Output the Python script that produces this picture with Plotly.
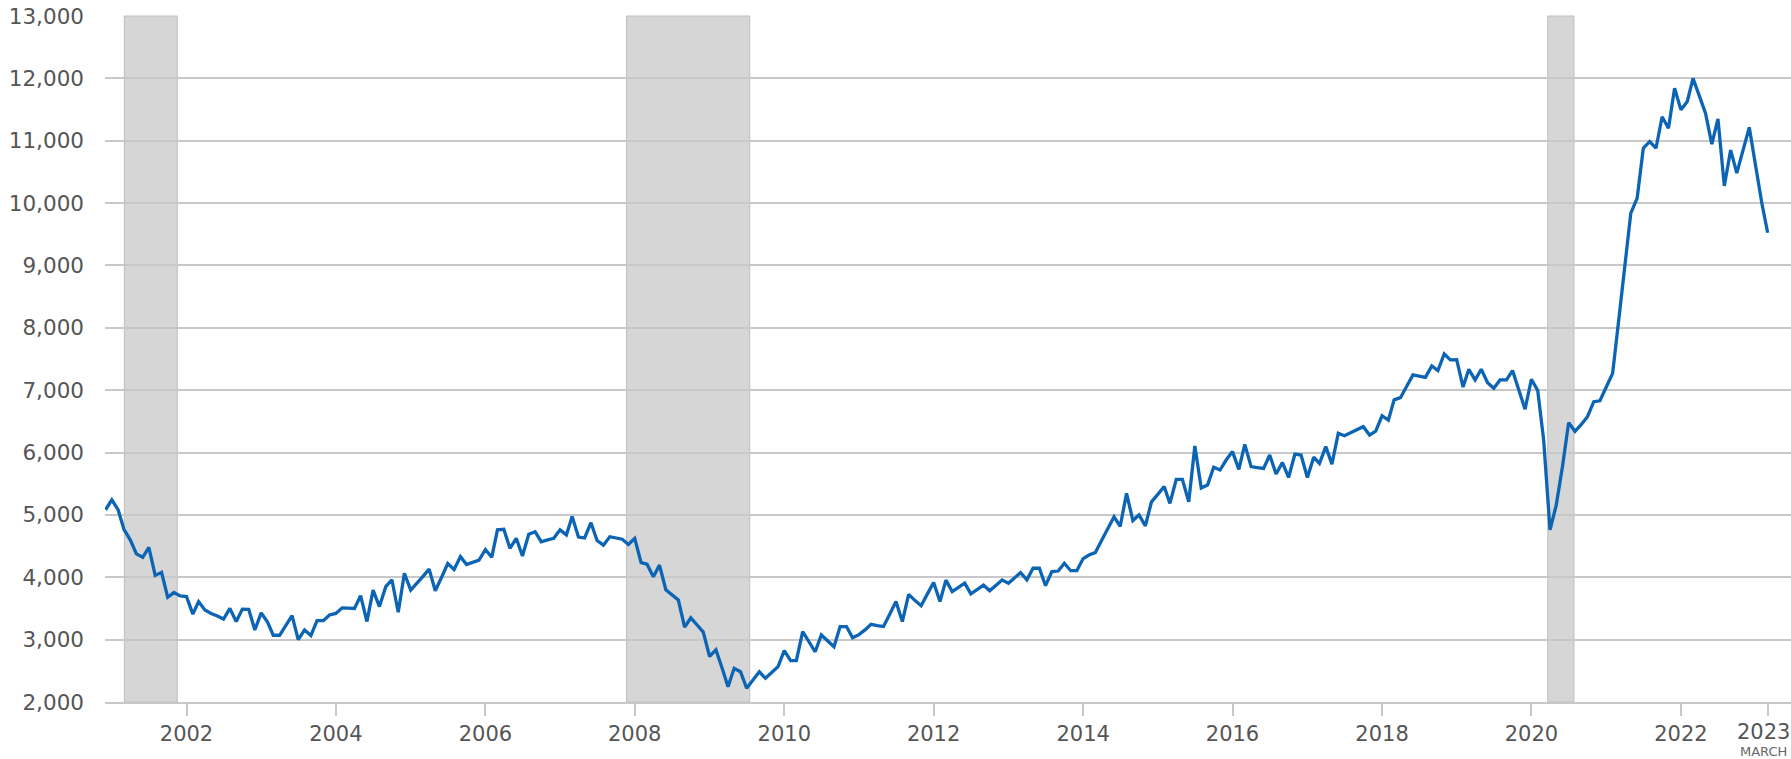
import pandas as pd
import plotly.graph_objects as go

# Job openings (thousands), monthly, Dec 2000 - Mar 2023
start_month = "2000-12-01"
openings = [
    5080, 5240, 5080, 4770, 4600, 4375, 4320, 4480, 4030, 4080, 3680, 3755, 3700,   # Dec00-Dec01
    3690, 3410, 3610, 3475, 3420, 3380, 3330, 3500, 3290, 3490, 3485, 3155,         # 2002
    3430, 3280, 3070, 3070, 3235, 3385, 3000, 3155, 3065, 3305, 3305, 3395,         # 2003
    3420, 3510, 3505, 3500, 3705, 3290, 3795, 3530, 3850, 3960, 3440, 4065,         # 2004
    3795, 3900, 4010, 4130, 3785, 4000, 4220, 4125, 4330, 4205, 4240, 4275,         # 2005
    4445, 4320, 4760, 4770, 4465, 4625, 4340, 4690, 4730, 4570, 4600, 4625,         # 2006
    4760, 4680, 4975, 4645, 4630, 4875, 4590, 4515, 4650, 4630, 4610, 4525,         # 2007
    4625, 4235, 4210, 4010, 4195, 3800, 3715, 3635, 3200, 3350, 3235, 3120,         # 2008
    2730, 2835, 2565, 2245, 2540, 2485, 2220, 2350, 2485, 2380, 2470, 2565,         # 2009
    2825, 2665, 2665, 3130, 2970, 2805, 3075, 2980, 2885, 3210, 3210, 3030,         # 2010
    3080, 3160, 3245, 3225, 3210, 3410, 3610, 3290, 3725, 3630, 3545, 3730,         # 2011
    3915, 3610, 3955, 3770, 3840, 3905, 3735, 3800, 3875, 3785, 3870, 3955,         # 2012
    3905, 4000, 4075, 3960, 4145, 4145, 3865, 4090, 4100, 4225, 4105, 4105,         # 2013
    4300, 4360, 4395, 4590, 4780, 4970, 4815, 5345, 4910, 5000, 4825, 5210,         # 2014
    5330, 5455, 5185, 5570, 5570, 5210, 6105, 5430, 5480, 5765, 5720, 5880,         # 2015
    6015, 5730, 6130, 5775, 5760, 5745, 5960, 5655, 5840, 5600, 5975, 5960,         # 2016
    5600, 5925, 5825, 6095, 5815, 6310, 6270, 6320, 6370, 6415, 6280, 6345,         # 2017
    6590, 6520, 6845, 6880, 7060, 7245, 7225, 7205, 7390, 7315, 7580, 7485,         # 2018
    7490, 7050, 7335, 7165, 7335, 7120, 7030, 7165, 7165, 7315, 7000, 6695,         # 2019
    7175, 6995, 6200, 4760, 5150, 5775, 6480, 6340, 6450, 6575, 6815, 6830,         # 2020
    7050, 7270, 8070, 8950, 9840, 10080, 10880, 10985, 10880, 11385, 11200, 11840,  # 2021
    11495, 11630, 12000, 11720, 11440, 10945, 11350, 10275, 10850, 10480, 10845, 11215,  # 2022
    10600, 9990, 9525,                                                              # 2023
]
dates = pd.date_range(start_month, periods=len(openings), freq="MS")

# Recession periods (shaded)
recessions = [
    ("2001-03-03", "2001-11-17"),
    ("2007-11-22", "2009-07-16"),
    ("2020-03-21", "2020-07-27"),
]

year_ticks = [f"{y}-01-01" for y in range(2002, 2023, 2)]
year_labels = [str(y) for y in range(2002, 2023, 2)]
tick_vals = year_ticks + [dates[-1]]
tick_text = year_labels + [""]          # last tick labelled by annotations below
last_label = "2023"
last_sublabel = "MARCH"
y_ticks = list(range(2000, 13001, 1000))

GRID = "#c8c8c8"
TEXT = "#555555"
FONT = "DejaVu Sans"

fig = go.Figure()
fig.add_trace(go.Scatter(
    x=dates, y=openings, mode="lines",
    line=dict(color="#0c64b5", width=3.3),
    hoverinfo="x+y", showlegend=False,
))

for x0, x1 in recessions:
    fig.add_shape(type="rect", xref="x", yref="paper", x0=x0, x1=x1, y0=0, y1=1,
                  fillcolor="#d6d6d6", line=dict(color="#bebebe", width=1), layer="below")

fig.add_annotation(x=dates[-1], y=0, xref="x", yref="paper", text=last_label,
                   showarrow=False, xanchor="center", yanchor="middle",
                   xshift=-4, yshift=-29.5,
                   font=dict(family=FONT, size=21, color=TEXT))
fig.add_annotation(x=dates[-1], y=0, xref="x", yref="paper", text=last_sublabel,
                   showarrow=False, xanchor="center", yanchor="middle",
                   xshift=-4, yshift=-49,
                   font=dict(family=FONT, size=13, color="#666666"))

fig.update_layout(
    width=1791, height=759,
    margin=dict(l=105, r=0, t=16, b=57),
    paper_bgcolor="white", plot_bgcolor="white",
    xaxis=dict(
        type="date",
        range=["2000-11-28 14:00", "2023-06-23"],
        tickvals=tick_vals, ticktext=tick_text,
        ticks="outside", ticklen=12, tickwidth=2, tickcolor=GRID,
        showgrid=False, zeroline=False,
        showline=True, linecolor=GRID, linewidth=2,
        ticklabeloverflow="allow", automargin=False,
        tickfont=dict(family=FONT, size=21, color=TEXT),
    ),
    yaxis=dict(
        range=[2000, 13000], tickvals=y_ticks, tickformat=",",
        showgrid=True, gridcolor=GRID, gridwidth=2,
        zeroline=False, showline=False, ticks="",
        ticklabelstandoff=20, automargin=False,
        tickfont=dict(family=FONT, size=21.5, color=TEXT),
    ),
)

fig.write_html("out.html",
               config={"displayModeBar": False},
               post_script="document.body.style.margin='0';document.body.style.overflow='hidden';")
